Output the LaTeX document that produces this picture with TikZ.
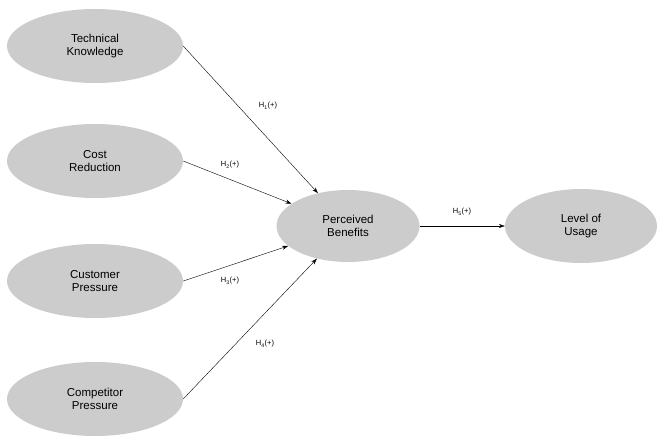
\documentclass[tikz,border=0pt]{standalone}
\usepackage{fontspec}
\setmainfont{Liberation Sans}
\usetikzlibrary{shapes.geometric,arrows.meta}
\tikzset{
  factor/.style={ellipse, fill=gray!40, minimum width=176pt, minimum height=74pt,
    align=center, font=\fontsize{11.5}{13.5}\selectfont, inner sep=0pt},
  link/.style={-{Stealth[length=6pt,width=4pt]}, thin},
  hyp/.style={font=\fontsize{7.5}{9}\selectfont, inner sep=0pt}
}
\begin{document}
\begin{tikzpicture}[x=1pt,y=-1pt]
  \useasboundingbox (0,0) rectangle (664,444);

  \node[factor] (tk) at (95, 46) {Technical\\Knowledge};
  \node[factor] (cr) at (95, 161) {Cost\\Reduction};
  \node[factor] (cp) at (95, 281) {Customer\\Pressure};
  \node[factor] (co) at (95, 399) {Competitor\\Pressure};

  \node[factor, minimum width=143pt, minimum height=72pt] (pb) at (348, 226) {Perceived\\Benefits};
  \node[factor, minimum width=152pt] (lu) at (581, 226) {Level of\\Usage};

  \draw[link] (tk.east) -- (pb);
  \draw[link] (cr.east) -- (pb);
  \draw[link] (cp.east) -- (pb);
  \draw[link] (co.east) -- (pb);
  \draw[link] (pb) -- (lu);

  \node[hyp] (h1) at (268, 106) {H\textsubscript{1}(+)};
  \node[hyp] (h2) at (230, 165) {H\textsubscript{2}(+)};
  \node[hyp] (h3) at (230, 281) {H\textsubscript{3}(+)};
  \node[hyp] (h4) at (265, 344) {H\textsubscript{4}(+)};
  \node[hyp] (h5) at (462, 212) {H\textsubscript{5}(+)};
\end{tikzpicture}
\end{document}
